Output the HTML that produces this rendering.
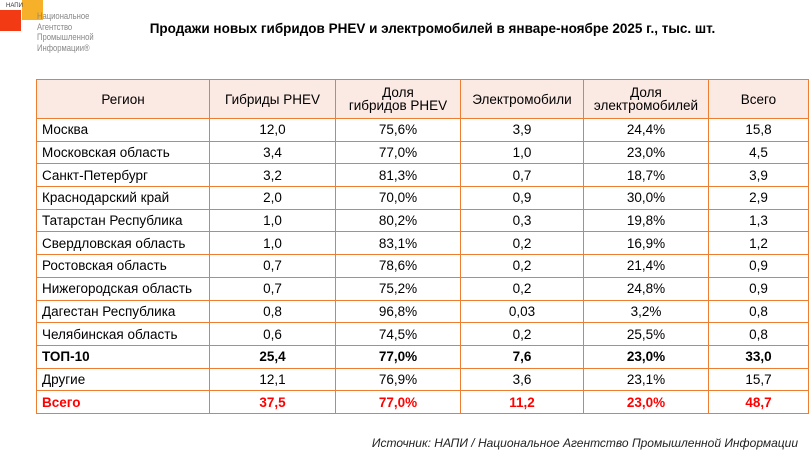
<!DOCTYPE html>
<html><head><meta charset="utf-8"><style>
body{margin:0;width:810px;height:458px;background:#fff;position:relative;font-family:"Liberation Sans",sans-serif;overflow:hidden}
.abs{position:absolute}
table{position:absolute;left:36px;top:79px;border-collapse:collapse;font-size:13.5px;color:#000}
td,th{border:1.5px solid #ed7d31;padding:0;line-height:13px}
tr{height:22.7px}
tr:first-child{height:39px}
th{font-weight:normal;background:#fbe9e3}
td{text-align:center}
td:first-child{text-align:left;padding-left:5px}
tr.b td{font-weight:bold}
tr.r td{font-weight:bold;color:#f00}
</style></head><body>
<div class="abs" style="left:0;top:10px;width:21px;height:21px;background:#f23a14"></div>
<div class="abs" style="left:22px;top:0;width:21px;height:20px;background:#f7b02a"></div>
<div class="abs" style="left:6px;top:3px;font-size:6px;color:#333">НАПИ</div>
<div class="abs" style="left:37px;top:11px;font-size:9px;line-height:10.5px;color:#888;transform:scaleX(0.85);transform-origin:left">Национальное<br>Агентство<br>Промышленной<br>Информации®</div>
<div class="abs" style="left:0;width:810px;top:21px;text-align:center;font-size:13.5px;font-weight:bold;padding-left:55px;box-sizing:border-box">Продажи новых гибридов PHEV и электромобилей в январе-ноябре 2025 г., тыс. шт.</div>
<table>
<colgroup><col style="width:173px"><col style="width:126px"><col style="width:125px"><col style="width:123px"><col style="width:125px"><col style="width:100px"></colgroup>
<tr><th>Регион</th><th>Гибриды PHEV</th><th>Доля<br>гибридов PHEV</th><th>Электромобили</th><th>Доля<br>электромобилей</th><th>Всего</th></tr>
<tr><td>Москва</td><td>12,0</td><td>75,6%</td><td>3,9</td><td>24,4%</td><td>15,8</td></tr>
<tr><td>Московская область</td><td>3,4</td><td>77,0%</td><td>1,0</td><td>23,0%</td><td>4,5</td></tr>
<tr><td>Санкт-Петербург</td><td>3,2</td><td>81,3%</td><td>0,7</td><td>18,7%</td><td>3,9</td></tr>
<tr><td>Краснодарский край</td><td>2,0</td><td>70,0%</td><td>0,9</td><td>30,0%</td><td>2,9</td></tr>
<tr><td>Татарстан Республика</td><td>1,0</td><td>80,2%</td><td>0,3</td><td>19,8%</td><td>1,3</td></tr>
<tr><td>Свердловская область</td><td>1,0</td><td>83,1%</td><td>0,2</td><td>16,9%</td><td>1,2</td></tr>
<tr><td>Ростовская область</td><td>0,7</td><td>78,6%</td><td>0,2</td><td>21,4%</td><td>0,9</td></tr>
<tr><td>Нижегородская область</td><td>0,7</td><td>75,2%</td><td>0,2</td><td>24,8%</td><td>0,9</td></tr>
<tr><td>Дагестан Республика</td><td>0,8</td><td>96,8%</td><td>0,03</td><td>3,2%</td><td>0,8</td></tr>
<tr><td>Челябинская область</td><td>0,6</td><td>74,5%</td><td>0,2</td><td>25,5%</td><td>0,8</td></tr>
<tr class="b"><td>ТОП-10</td><td>25,4</td><td>77,0%</td><td>7,6</td><td>23,0%</td><td>33,0</td></tr>
<tr><td>Другие</td><td>12,1</td><td>76,9%</td><td>3,6</td><td>23,1%</td><td>15,7</td></tr>
<tr class="r"><td>Всего</td><td>37,5</td><td>77,0%</td><td>11,2</td><td>23,0%</td><td>48,7</td></tr>
</table>
<div class="abs" style="right:12px;top:436px;font-size:12px;font-style:italic;color:#222">Источник: НАПИ / Национальное Агентство Промышленной Информации</div>
</body></html>
